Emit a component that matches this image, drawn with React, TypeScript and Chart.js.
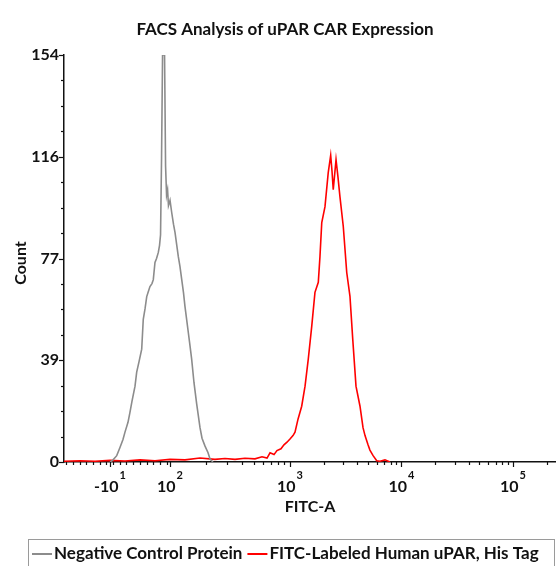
import React, { useEffect, useRef } from "react";
import { Chart, registerables } from "chart.js";

Chart.register(...registerables);

const TITLE = "FACS Analysis of uPAR CAR Expression";
const X_TITLE = "FITC-A";
const Y_TITLE = "Count";
const SERIES_NAMES = ["Negative Control Protein", "FITC-Labeled Human uPAR, His Tag"];
const SERIES_COLORS = ["#8c8c8c", "#ff0000"];

// x values are in display decades of the biexponential FITC-A axis
const grayX = [
  1.386, 1.413, 1.446, 1.475, 1.502, 1.52, 1.547, 1.565, 1.583, 1.61, 1.625, 1.646, 1.67, 1.684,
  1.7, 1.715, 1.726, 1.744, 1.762, 1.774, 1.789, 1.803, 1.819, 1.83, 1.839, 1.848, 1.857, 1.875,
  1.884, 1.893, 1.902, 1.91, 1.924, 1.939, 1.955, 1.969, 1.998, 2.013, 2.029, 2.045, 2.058, 2.088,
  2.103, 2.118, 2.139, 2.163, 2.193, 2.211, 2.238, 2.265, 2.283, 2.309,
];
const grayY = [
  0, 0.8, 2.4, 5.5, 8.5, 11.3, 15, 18.9, 23, 28.7, 34, 38, 42.7, 54,
  58, 62.6, 64, 66.4, 67.5, 69, 75.5, 77, 79.3, 82, 86, 115, 154, 154,
  112, 101, 103, 97, 99, 94.4, 90, 86.8, 77.8, 74, 69, 64, 58.9, 49,
  44, 38.9, 30, 22, 13, 9, 6, 3.5, 1.1, 0,
];

const redX = [
  0.973, 1.117, 1.251, 1.386, 1.52, 1.655, 1.789, 1.924, 2.058, 2.193, 2.327, 2.417, 2.507, 2.596,
  2.686, 2.749, 2.794, 2.821, 2.857, 2.883, 2.919, 2.946, 2.973, 3.0, 3.027, 3.045, 3.072, 3.105,
  3.135, 3.164, 3.195, 3.224, 3.254, 3.269, 3.285, 3.314, 3.343, 3.365, 3.377, 3.388, 3.413, 3.43,
  3.448, 3.478, 3.509, 3.538, 3.563, 3.592, 3.628, 3.655, 3.673, 3.7, 3.717, 3.744, 3.778, 3.807,
  3.852, 3.897,
];
const redY = [
  0.3, 0.5, 0.3, 0.6, 0.4, 0.8, 0.5, 1.0, 0.8, 1.5, 1.0, 1.3, 1.0, 1.4,
  1.2, 2.0, 1.5, 3.5, 2.8, 4.3, 5.0, 6.5, 7.5, 8.7, 10, 11.3, 16.2, 21.1,
  28.7, 38.9, 51.3, 64.2, 68, 77.8, 90.6, 96.6, 109.5, 116, 110, 103, 114.4, 108,
  100.4, 89.1, 71.7, 62.7, 46.4, 28.7, 21.1, 13, 10, 6.5, 4.5, 2.5, 0.5, 0.3,
  0.8, 0,
];

const Y_MAX = 154;
const Y_MAJOR = [0, 38.5, 77, 115.5, 154];
const Y_MINOR_STEP = 9.625;

const X_MIN = 0.973;
const X_MAX = 5.386;
const X_MAJOR = [1.386, 1.924, 3, 4, 5];
const X_LABEL_BASE = ["-10", "10", "10", "10", "10"];
const X_LABEL_EXP = ["1", "2", "3", "4", "5"];

const FONT = "Lato, 'Open Sans', sans-serif";

function xMinorTicks(): number[] {
  const out: number[] = [];
  for (let v = X_MIN + 0.02; v < X_MAJOR[1] - 0.03; v += 0.06) out.push(v);
  const starts = [X_MAJOR[1], 3, 4, 5];
  const widths = [3 - X_MAJOR[1], 1, 1, 1];
  starts.forEach((s, i) => {
    for (let k = 2; k <= 9; k++) {
      const v = s + Math.log10(k) * widths[i];
      if (v < X_MAX) out.push(v);
    }
  });
  return out;
}

const decor = {
  id: "decor",
  afterDraw(chart: any) {
    const { ctx, chartArea, scales } = chart;
    const xs = scales.x;
    const ys = scales.y;
    ctx.save();
    ctx.fillStyle = "#111";
    ctx.strokeStyle = "#111";

    // title
    ctx.font = `bold 17px ${FONT}`;
    ctx.textAlign = "center";
    ctx.textBaseline = "middle";
    ctx.fillText(TITLE, 285, 30);

    // y axis title
    ctx.save();
    ctx.translate(21, 263);
    ctx.rotate(-Math.PI / 2);
    ctx.font = `bold 16px ${FONT}`;
    ctx.fillText(Y_TITLE, 0, 0);
    ctx.restore();

    // y ticks
    ctx.lineWidth = 1.2;
    for (let v = 0; v <= Y_MAX + 1e-6; v += Y_MINOR_STEP) {
      const major = Y_MAJOR.some((m) => Math.abs(m - v) < 1e-6);
      const py = Math.round(ys.getPixelForValue(v)) + 0.5;
      ctx.beginPath();
      ctx.moveTo(chartArea.left, py);
      ctx.lineTo(chartArea.left - (major ? 5 : 3), py);
      ctx.stroke();
    }

    // x ticks
    const drawXTick = (v: number, len: number) => {
      const px = Math.round(xs.getPixelForValue(v)) + 0.5;
      ctx.beginPath();
      ctx.moveTo(px, chartArea.bottom);
      ctx.lineTo(px, chartArea.bottom + len);
      ctx.stroke();
    };
    xMinorTicks().forEach((v) => drawXTick(v, 3));
    X_MAJOR.forEach((v) => drawXTick(v, 5));

    // x tick labels with superscripts
    X_MAJOR.forEach((v, i) => {
      const px = xs.getPixelForValue(v);
      ctx.font = `bold 16px ${FONT}`;
      const wb = ctx.measureText(X_LABEL_BASE[i]).width;
      ctx.font = `bold 11px ${FONT}`;
      const we = ctx.measureText(X_LABEL_EXP[i]).width;
      const start = px - (wb + we + 1) / 2;
      ctx.textAlign = "left";
      ctx.font = `bold 16px ${FONT}`;
      ctx.fillText(X_LABEL_BASE[i], start, chartArea.bottom + 25);
      ctx.font = `bold 11px ${FONT}`;
      ctx.fillText(X_LABEL_EXP[i], start + wb + 1, chartArea.bottom + 13);
    });

    // legend
    const ly = 554;
    ctx.strokeStyle = "#9a9a9a";
    ctx.lineWidth = 1;
    ctx.strokeRect(28.5, 539.5, 526, 40);
    let lx = 32;
    ctx.font = `bold 17px ${FONT}`;
    ctx.textAlign = "left";
    ctx.textBaseline = "middle";
    chart.data.datasets.forEach((ds: any) => {
      ctx.strokeStyle = ds.borderColor;
      ctx.lineWidth = 2;
      ctx.beginPath();
      ctx.moveTo(lx, ly);
      ctx.lineTo(lx + 20, ly);
      ctx.stroke();
      lx += 22;
      ctx.fillStyle = "#111";
      ctx.fillText(ds.label, lx, ly);
      lx += ctx.measureText(ds.label).width + 5;
    });
    ctx.restore();
  },
};

export default function App() {
  const ref = useRef<HTMLCanvasElement | null>(null);
  useEffect(() => {
    if (!ref.current) return;
    const chart = new Chart(ref.current, {
      type: "line",
      data: {
        datasets: [
          {
            label: SERIES_NAMES[0],
            data: grayX.map((x, i) => ({ x, y: grayY[i] })),
            borderColor: SERIES_COLORS[0],
            borderWidth: 1.6,
            pointRadius: 0,
            tension: 0,
            fill: false,
          },
          {
            label: SERIES_NAMES[1],
            data: redX.map((x, i) => ({ x, y: redY[i] })),
            borderColor: SERIES_COLORS[1],
            borderWidth: 1.6,
            pointRadius: 0,
            tension: 0,
            fill: false,
          },
        ],
      },
      options: {
        animation: false,
        responsive: false,
        devicePixelRatio: 1,
        layout: { padding: { top: 55, left: 0, right: 0, bottom: 0 } },
        plugins: {
          legend: { display: false },
          title: { display: false },
          tooltip: { enabled: false },
        },
        scales: {
          x: {
            type: "linear",
            min: X_MIN,
            max: X_MAX,
            grid: { display: false, drawTicks: false },
            border: { display: true, color: "#111", width: 1.5 },
            ticks: { display: false },
            afterFit: (s: any) => {
              s.height = 104;
            },
            title: {
              display: true,
              text: X_TITLE,
              color: "#111",
              font: { family: FONT, size: 16, weight: "bold" },
              padding: { top: 0, bottom: 50 },
            },
          },
          y: {
            type: "linear",
            min: 0,
            max: Y_MAX,
            grid: { display: false, drawTicks: false },
            border: { display: true, color: "#111", width: 1.5 },
            afterBuildTicks: (s: any) => {
              s.ticks = Y_MAJOR.map((v) => ({ value: v }));
            },
            afterFit: (s: any) => {
              s.width = 64;
            },
            ticks: {
              padding: 5,
              color: "#111",
              font: { family: FONT, size: 16, weight: "bold" },
              callback: (v: any) => String(Math.round(Number(v))),
            },
            title: { display: false },
          },
        },
      },
      plugins: [decor],
    });
    return () => chart.destroy();
  }, []);
  return (
    <div style={{ position: "absolute", left: 0, top: 0, width: 556, height: 566, background: "#fff" }}>
      <canvas ref={ref} width={556} height={566} style={{ display: "block" }} />
    </div>
  );
}
